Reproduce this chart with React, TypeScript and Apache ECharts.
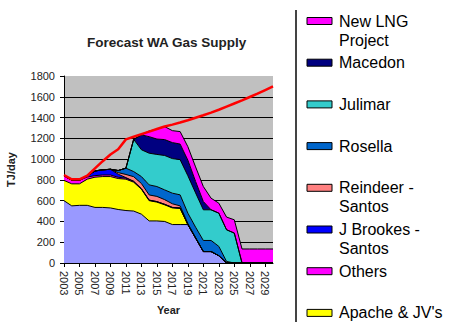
import React, { useEffect, useRef } from "react";
import * as echarts from "echarts";

const years = [
  "2003", "2004", "2005", "2006", "2007", "2008", "2009", "2010", "2011", "2012",
  "2013", "2014", "2015", "2016", "2017", "2018", "2019", "2020", "2021", "2022",
  "2023", "2024", "2025", "2026", "2027", "2028", "2029", "2030",
];

// Supply by source, TJ/day (stacked bottom to top)
const northWestShelf = [600, 550, 555, 555, 535, 535, 530, 515, 505, 500, 470, 405, 405, 400, 370, 370, 370, 240, 110, 110, 70, 0, 0, 0, 0, 0, 0, 0];
const apache = [195, 212, 207, 252, 291, 297, 302, 298, 302, 278, 240, 195, 181, 160, 160, 155, 0, 0, 0, 0, 0, 0, 0, 0, 0, 0, 0, 0];
const others = [45, 35, 35, 20, 15, 15, 15, 12, 10, 8, 5, 5, 5, 5, 5, 5, 0, 0, 0, 0, 0, 0, 0, 0, 0, 0, 0, 0];
const jBrookes = [0, 0, 0, 10, 45, 50, 55, 30, 5, 0, 0, 0, 0, 0, 0, 0, 0, 0, 0, 0, 0, 0, 0, 0, 0, 0, 0, 0];
const reindeer = [0, 0, 0, 0, 0, 0, 0, 15, 30, 45, 50, 50, 50, 45, 35, 20, 10, 5, 0, 0, 0, 0, 0, 0, 0, 0, 0, 0];
const rosella = [0, 0, 0, 0, 0, 0, 0, 20, 61, 49, 67, 97, 95, 94, 102, 106, 100, 100, 107, 107, 90, 15, 0, 0, 0, 0, 0, 0];
const julimar = [0, 0, 0, 0, 0, 0, 0, 0, 0, 310, 258, 305, 309, 331, 333, 339, 360, 330, 295, 295, 320, 305, 288, 0, 0, 0, 0, 0];
const macedon = [0, 0, 0, 0, 0, 0, 0, 0, 0, 0, 143, 159, 148, 153, 154, 150, 150, 110, 80, 0, 0, 0, 0, 0, 0, 0, 0, 0];
const newLng = [0, 0, 0, 0, 0, 0, 0, 0, 0, 0, 0, 55, 95, 125, 115, 120, 130, 140, 144, 112, 96, 122, 128, 135, 135, 135, 135, 135];

// Forecast demand, TJ/day
const demand = [847, 805, 805, 840, 910, 980, 1045, 1095, 1190, 1215, 1240, 1265, 1290, 1314, 1332, 1352, 1374, 1398, 1422, 1448, 1475, 1505, 1535, 1565, 1598, 1630, 1665, 1700];

const yTicks = { min: 0, max: 1800, interval: 200 };

const FONT = "'Liberation Sans', Arial, sans-serif";

type Layer = { name: string; label: string; color: string; data: number[]; inLegend: boolean };

const layers: Layer[] = [
  { name: "North West Shelf", label: "North West Shelf", color: "#9999FF", data: northWestShelf, inLegend: false },
  { name: "Apache & JV's", label: "Apache & JV's", color: "#FFFF00", data: apache, inLegend: true },
  { name: "Others", label: "Others", color: "#FF00FF", data: others, inLegend: true },
  { name: "J Brookes - Santos", label: "J Brookes -\nSantos", color: "#0000FF", data: jBrookes, inLegend: true },
  { name: "Reindeer - Santos", label: "Reindeer -\nSantos", color: "#FF8080", data: reindeer, inLegend: true },
  { name: "Rosella", label: "Rosella", color: "#0066CC", data: rosella, inLegend: true },
  { name: "Julimar", label: "Julimar", color: "#33CCCC", data: julimar, inLegend: true },
  { name: "Macedon", label: "Macedon", color: "#000080", data: macedon, inLegend: true },
  { name: "New LNG Project", label: "New LNG\nProject", color: "#FF00FF", data: newLng, inLegend: true },
];

export default function App() {
  const ref = useRef<HTMLDivElement>(null);

  useEffect(() => {
    if (!ref.current) return;
    const chart = echarts.init(ref.current, null, { renderer: "svg" });

    const areaSeries = layers.map((l) => ({
      name: l.name,
      type: "line",
      stack: "supply",
      data: l.data,
      showSymbol: false,
      symbol: "none",
      lineStyle: { color: "#000", width: 1 },
      areaStyle: { color: l.color, opacity: 1 },
      itemStyle: { color: l.color },
      z: 2,
    }));

    // Legend: top item first, swatch aligned with the first text line
    const legendItems = layers.filter((l) => l.inLegend).reverse();
    const legendGraphics: any[] = [];
    legendItems.forEach((l, i) => {
      const cy = 21 + i * 41.7;
      legendGraphics.push({
        type: "rect",
        shape: { x: 307, y: cy - 3.5, width: 25, height: 7 },
        style: { fill: l.color, stroke: "#000", lineWidth: 1 },
      });
      legendGraphics.push({
        type: "text",
        x: 339,
        y: cy - 9.5,
        style: {
          text: l.label,
          fill: "#000",
          font: `16px ${FONT}`,
          lineHeight: 19,
          verticalAlign: "top",
          align: "left",
        },
      });
    });

    chart.setOption({
      animation: false,
      backgroundColor: "#fff",
      title: {
        text: "Forecast WA Gas Supply",
        left: 82,
        top: 30,
        textStyle: { fontFamily: FONT, fontSize: 13.5, fontWeight: "bold", color: "#222" },
      },
      grid: {
        left: 64,
        top: 76,
        width: 209,
        height: 187,
        show: true,
        backgroundColor: "#C0C0C0",
        borderWidth: 0,
      },
      xAxis: {
        type: "category",
        data: years,
        boundaryGap: false,
        name: "Year",
        nameLocation: "middle",
        nameGap: 41,
        nameTextStyle: { fontFamily: FONT, fontSize: 11, fontWeight: "bold", color: "#222" },
        axisLine: { lineStyle: { color: "#000", width: 1 } },
        axisTick: { show: true, interval: 1, length: 4, lineStyle: { color: "#000" } },
        axisLabel: {
          interval: 1,
          rotate: -90,
          margin: 8,
          fontFamily: FONT,
          fontSize: 11,
          color: "#222",
        },
        splitLine: { show: false },
      },
      yAxis: {
        type: "value",
        min: yTicks.min,
        max: yTicks.max,
        interval: yTicks.interval,
        name: "TJ/day",
        nameLocation: "middle",
        nameGap: 48,
        nameTextStyle: { fontFamily: FONT, fontSize: 11, fontWeight: "bold", color: "#222" },
        axisLine: { show: true, lineStyle: { color: "#000", width: 1 } },
        axisTick: { show: true, length: 4, lineStyle: { color: "#000" } },
        axisLabel: {
          margin: 9,
          fontFamily: FONT,
          fontSize: 11,
          color: "#222",
          formatter: (v: number) => String(v),
        },
        splitLine: { show: true, showMaxLine: false, lineStyle: { color: "#000", width: 1 } },
      },
      series: [
        ...areaSeries,
        {
          name: "Demand",
          type: "line",
          data: demand,
          showSymbol: false,
          symbol: "none",
          lineStyle: { color: "#FF0000", width: 2.5 },
          itemStyle: { color: "#FF0000" },
          z: 5,
        },
      ],
      graphic: [
        {
          type: "line",
          shape: { x1: 296, y1: 10, x2: 296, y2: 322 },
          style: { stroke: "#444", lineWidth: 2 },
        },
        ...legendGraphics,
      ],
    });

    return () => chart.dispose();
  }, []);

  return <div ref={ref} style={{ width: 455, height: 322, position: "absolute", left: 0, top: 0 }} />;
}
